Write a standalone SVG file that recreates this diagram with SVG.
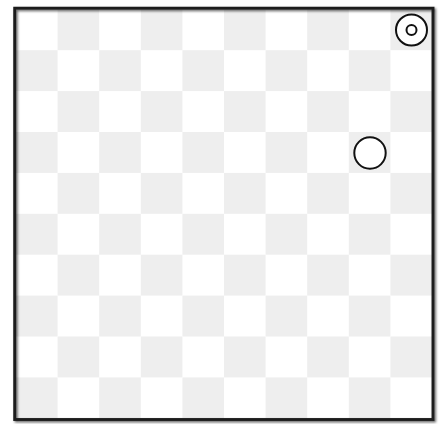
<svg xmlns="http://www.w3.org/2000/svg" width="446" height="424" viewBox="0 0 446 424">
<defs>
<style>
.g{fill:#eeeeee}
.piece{fill:#ffffff;stroke:#111111;stroke-width:2}
</style>
<filter id="sh" x="-5%" y="-5%" width="110%" height="110%">
<feDropShadow dx="1.5" dy="1.5" stdDeviation="1" flood-color="#000" flood-opacity="0.6"/>
</filter>
</defs>
<rect width="446" height="424" fill="#ffffff"/>
<g id="board">
<rect x="16" y="9.3" width="416" height="409" fill="#ffffff"/>
<g id="cells">
<rect class="g" x="57.6" y="9.3" width="41.6" height="40.9"/>
<rect class="g" x="140.8" y="9.3" width="41.6" height="40.9"/>
<rect class="g" x="224" y="9.3" width="41.6" height="40.9"/>
<rect class="g" x="307.2" y="9.3" width="41.6" height="40.9"/>
<rect class="g" x="390.4" y="9.3" width="41.6" height="40.9"/>
<rect class="g" x="16" y="50.2" width="41.6" height="40.9"/>
<rect class="g" x="99.2" y="50.2" width="41.6" height="40.9"/>
<rect class="g" x="182.4" y="50.2" width="41.6" height="40.9"/>
<rect class="g" x="265.6" y="50.2" width="41.6" height="40.9"/>
<rect class="g" x="348.8" y="50.2" width="41.6" height="40.9"/>
<rect class="g" x="57.6" y="91.1" width="41.6" height="40.9"/>
<rect class="g" x="140.8" y="91.1" width="41.6" height="40.9"/>
<rect class="g" x="224" y="91.1" width="41.6" height="40.9"/>
<rect class="g" x="307.2" y="91.1" width="41.6" height="40.9"/>
<rect class="g" x="390.4" y="91.1" width="41.6" height="40.9"/>
<rect class="g" x="16" y="132" width="41.6" height="40.9"/>
<rect class="g" x="99.2" y="132" width="41.6" height="40.9"/>
<rect class="g" x="182.4" y="132" width="41.6" height="40.9"/>
<rect class="g" x="265.6" y="132" width="41.6" height="40.9"/>
<rect class="g" x="348.8" y="132" width="41.6" height="40.9"/>
<rect class="g" x="57.6" y="172.9" width="41.6" height="40.9"/>
<rect class="g" x="140.8" y="172.9" width="41.6" height="40.9"/>
<rect class="g" x="224" y="172.9" width="41.6" height="40.9"/>
<rect class="g" x="307.2" y="172.9" width="41.6" height="40.9"/>
<rect class="g" x="390.4" y="172.9" width="41.6" height="40.9"/>
<rect class="g" x="16" y="213.8" width="41.6" height="40.9"/>
<rect class="g" x="99.2" y="213.8" width="41.6" height="40.9"/>
<rect class="g" x="182.4" y="213.8" width="41.6" height="40.9"/>
<rect class="g" x="265.6" y="213.8" width="41.6" height="40.9"/>
<rect class="g" x="348.8" y="213.8" width="41.6" height="40.9"/>
<rect class="g" x="57.6" y="254.7" width="41.6" height="40.9"/>
<rect class="g" x="140.8" y="254.7" width="41.6" height="40.9"/>
<rect class="g" x="224" y="254.7" width="41.6" height="40.9"/>
<rect class="g" x="307.2" y="254.7" width="41.6" height="40.9"/>
<rect class="g" x="390.4" y="254.7" width="41.6" height="40.9"/>
<rect class="g" x="16" y="295.6" width="41.6" height="40.9"/>
<rect class="g" x="99.2" y="295.6" width="41.6" height="40.9"/>
<rect class="g" x="182.4" y="295.6" width="41.6" height="40.9"/>
<rect class="g" x="265.6" y="295.6" width="41.6" height="40.9"/>
<rect class="g" x="348.8" y="295.6" width="41.6" height="40.9"/>
<rect class="g" x="57.6" y="336.5" width="41.6" height="40.9"/>
<rect class="g" x="140.8" y="336.5" width="41.6" height="40.9"/>
<rect class="g" x="224" y="336.5" width="41.6" height="40.9"/>
<rect class="g" x="307.2" y="336.5" width="41.6" height="40.9"/>
<rect class="g" x="390.4" y="336.5" width="41.6" height="40.9"/>
<rect class="g" x="16" y="377.4" width="41.6" height="40.9"/>
<rect class="g" x="99.2" y="377.4" width="41.6" height="40.9"/>
<rect class="g" x="182.4" y="377.4" width="41.6" height="40.9"/>
<rect class="g" x="265.6" y="377.4" width="41.6" height="40.9"/>
<rect class="g" x="348.8" y="377.4" width="41.6" height="40.9"/>
</g>
<rect id="frame" x="14.7" y="8.2" width="418.3" height="411.3" fill="none" stroke="#1e1e1e" stroke-width="2.9" filter="url(#sh)"/>
</g>
<g id="connectors"></g>
<g id="piece-target">
<circle class="piece" cx="411.5" cy="30" r="15.5"/>
<circle class="piece" cx="411.5" cy="30" r="5"/>
</g>
<g id="piece-ring">
<circle class="piece" cx="370" cy="153" r="15.7"/>
</g>
</svg>
